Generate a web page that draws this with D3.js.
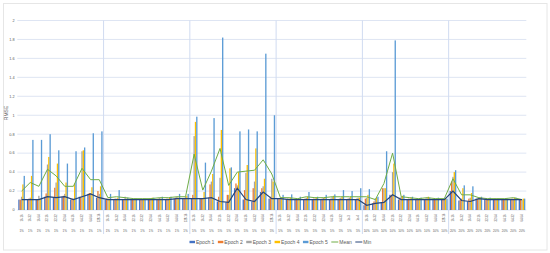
<!DOCTYPE html>
<html><head><meta charset="utf-8">
<script src="https://cdn.jsdelivr.net/npm/d3@7"></script>
<style>body{margin:0;background:#fff}text{font-family:"Liberation Sans",Arial,sans-serif}</style>
</head><body><svg id="c" width="550" height="253"></svg>
<script>
const categories = [
 "16-16","16-32","16-64","32-16","32-32","32-64","64-16","64-32","64-64","128-16",
 "16-16","16-32","16-64","32-16","32-32","32-64","64-16","64-32","64-64","128-16",
 "16-16","16-32","16-64","32-16","32-32","32-64","64-16","64-32","64-64","128-16",
 "16-16","16-32","16-64","32-16","32-32","32-64","64-16","64-32","1e-3","1e-4",
 "16-16","16-32","16-64","32-16","32-32","32-64","64-16","64-32","64-64","128-16",
 "16-16","16-32","16-64","32-16","32-32","32-64","64-16","64-32","64-64"];
const percents = [
 "1%","1%","1%","1%","1%","1%","1%","1%","1%","1%",
 "1%","1%","1%","1%","1%","1%","1%","1%","1%","1%",
 "5%","5%","5%","5%","5%","5%","5%","5%","5%","5%",
 "5%","5%","5%","5%","5%","5%","5%","5%","5%","5%",
 "10%","10%","10%","10%","10%","10%","10%","10%","10%","10%",
 "20%","20%","20%","20%","20%","20%","20%","20%","20%"];
const groupSizes = [10,10,10,10,10,9];
const epoch1 = [0.11,0.11,0.11,0.14,0.13,0.14,0.11,0.14,0.17,0.13,
 0.11,0.11,0.11,0.11,0.11,0.11,0.11,0.11,0.12,0.12,
 0.12,0.12,0.13,0.09,0.08,0.23,0.11,0.09,0.19,0.12,
 0.12,0.11,0.11,0.11,0.11,0.11,0.11,0.11,0.11,0.11,
 0.05,0.07,0.08,0.16,0.11,0.11,0.11,0.11,0.11,0.11,
 0.20,0.10,0.09,0.12,0.11,0.11,0.11,0.11,0.11];
const epoch2 = [0.11,0.12,0.11,0.175,0.235,0.15,0.12,0.14,0.18,0.20,
 0.12,0.12,0.11,0.11,0.11,0.12,0.12,0.12,0.13,0.12,
 0.16,0.12,0.27,0.14,0.16,0.28,0.21,0.23,0.23,0.14,
 0.12,0.12,0.12,0.12,0.12,0.12,0.12,0.12,0.12,0.12,
 0.12,0.09,0.23,0.16,0.13,0.12,0.12,0.12,0.12,0.11,
 0.30,0.11,0.12,0.12,0.12,0.12,0.11,0.12,0.11];
const epoch3 = [0.14,0.13,0.15,0.48,0.29,0.17,0.12,0.62,0.18,0.17,
 0.12,0.12,0.14,0.12,0.12,0.12,0.13,0.12,0.14,0.14,
 0.78,0.12,0.30,0.34,0.16,0.26,0.39,0.30,0.25,0.33,
 0.13,0.12,0.12,0.13,0.12,0.13,0.14,0.13,0.13,0.13,
 0.13,0.12,0.23,0.40,0.14,0.12,0.12,0.13,0.12,0.12,
 0.35,0.12,0.13,0.13,0.12,0.12,0.12,0.12,0.11];
const epoch4 = [0.27,0.36,0.12,0.56,0.49,0.29,0.28,0.63,0.24,0.25,
 0.12,0.13,0.12,0.12,0.12,0.13,0.12,0.13,0.13,0.15,
 0.93,0.19,0.38,0.845,0.44,0.40,0.475,0.65,0.33,0.30,
 0.13,0.13,0.12,0.14,0.13,0.13,0.15,0.14,0.14,0.13,
 0.16,0.13,0.23,0.49,0.15,0.13,0.12,0.14,0.12,0.12,
 0.40,0.23,0.18,0.13,0.12,0.12,0.12,0.13,0.12];
const epoch5 = [0.36,0.74,0.74,0.80,0.63,0.49,0.62,0.66,0.81,0.83,
 0.17,0.21,0.13,0.12,0.12,0.13,0.14,0.14,0.17,0.17,
 0.985,0.50,0.97,1.82,0.45,0.83,0.85,0.83,1.65,1.00,
 0.16,0.165,0.14,0.19,0.14,0.16,0.165,0.21,0.20,0.23,
 0.22,0.14,0.62,1.79,0.16,0.14,0.13,0.13,0.13,0.12,
 0.42,0.26,0.25,0.14,0.13,0.12,0.12,0.13,0.12];
const meanVals = [0.20,0.29,0.25,0.43,0.36,0.25,0.25,0.44,0.32,0.32,
 0.13,0.14,0.13,0.12,0.12,0.12,0.13,0.13,0.14,0.14,
 0.59,0.21,0.41,0.65,0.26,0.40,0.41,0.42,0.53,0.38,
 0.13,0.13,0.12,0.14,0.13,0.13,0.14,0.14,0.14,0.14,
 0.14,0.11,0.28,0.60,0.14,0.13,0.12,0.13,0.12,0.12,
 0.33,0.16,0.16,0.13,0.12,0.12,0.12,0.13,0.11];
const minVals = [0.11,0.11,0.11,0.14,0.13,0.14,0.11,0.14,0.17,0.13,
 0.11,0.11,0.11,0.11,0.11,0.11,0.11,0.11,0.12,0.12,
 0.12,0.12,0.13,0.09,0.08,0.23,0.11,0.09,0.19,0.12,
 0.12,0.11,0.11,0.11,0.11,0.11,0.11,0.11,0.11,0.11,
 0.05,0.07,0.08,0.16,0.11,0.11,0.11,0.11,0.11,0.11,
 0.20,0.10,0.09,0.12,0.11,0.11,0.11,0.11,0.11];
const yTicks = [0,0.2,0.4,0.6,0.8,1,1.2,1.4,1.6,1.8,2];
const yTickLabels = ["0","0.2","0.4","0.6","0.8","1","1.2","1.4","1.6","1.8","2"];
const seriesNames = ["Epoch 1","Epoch 2","Epoch 3","Epoch 4","Epoch 5","Mean","Min"];
const colors = ["#4472C4","#ED7D31","#A5A5A5","#FFC000","#5B9BD5","#70AD47","#264478"];

const svg = d3.select("#c");
const L = 17.3, R = 526.3, T = 20.5, B = 210;
const x = d3.scaleBand().domain(d3.range(categories.length)).range([L, R]);
const cw = x.bandwidth();
const bw = cw / 6.5;
const xs = d3.scaleBand().domain(d3.range(5)).range([0.75*bw, cw - 0.75*bw]);
const y = d3.scaleLinear().domain([0, 2]).range([B, T]);
const grid = "#d6def0";

svg.append("rect").attr("x",3.5).attr("y",3.5).attr("width",543.5).attr("height",246.5)
  .attr("fill","#fff").attr("stroke","#e6e6e6").attr("stroke-width",1);

svg.append("g").selectAll("line").data(yTicks).join("line")
  .attr("x1",L).attr("x2",R).attr("y1",d=>y(d)).attr("y2",d=>y(d))
  .attr("stroke",grid).attr("stroke-width",0.8);

let acc = 0; const bounds = [];
groupSizes.forEach((g,i)=>{ acc += g; if (i < groupSizes.length-1) bounds.push(acc); });
svg.append("g").selectAll("line").data(bounds).join("line")
  .attr("x1",d=>x(d)).attr("x2",d=>x(d)).attr("y1",T).attr("y2",234)
  .attr("stroke","#d0dbf1").attr("stroke-width",1);

svg.append("g").selectAll("text").data(yTicks).join("text")
  .attr("x",14.5).attr("y",d=>y(d)).attr("dy","0.35em").attr("text-anchor","end")
  .attr("font-size",3.8).attr("fill","#595959").text((d,i)=>yTickLabels[i]);

svg.append("text").attr("transform","translate(8,113) rotate(-90)").attr("text-anchor","middle")
  .attr("font-size",5).attr("fill","#595959").text("RMSE");

const epochs = [epoch1, epoch2, epoch3, epoch4, epoch5];
epochs.forEach((arr, k) => {
  svg.append("g").selectAll("rect").data(arr).join("rect")
    .attr("x",(d,i)=>x(i)+xs(k)).attr("width",xs.bandwidth())
    .attr("y",d=>y(d)).attr("height",d=>B-y(d)).attr("fill",colors[k]);
});

const line = d3.line().x((d,i)=>x(i)+cw/2).y(d=>y(d));
svg.append("path").datum(meanVals).attr("d",line).attr("fill","none")
  .attr("stroke",colors[5]).attr("stroke-width",1);
svg.append("path").datum(minVals).attr("d",line).attr("fill","none")
  .attr("stroke",colors[6]).attr("stroke-width",1.2);

svg.append("g").selectAll("text").data(categories).join("text")
  .attr("transform",(d,i)=>`translate(${x(i)+cw/2+1},218) rotate(-90)`)
  .attr("text-anchor","middle").attr("font-size",2.8).attr("fill","#595959").text(d=>d);
svg.append("g").selectAll("text").data(percents).join("text")
  .attr("x",(d,i)=>x(i)+cw/2).attr("y",231.5).attr("text-anchor","middle")
  .attr("font-size",3).attr("fill","#595959").text(d=>d);

const lg = svg.append("g");
let lx = 189.5; const ly = 242;
seriesNames.forEach((n,i)=>{
  const isLine = i >= 5;
  const sw = isLine ? 7 : 5.5;
  if (isLine) lg.append("line").attr("x1",lx).attr("x2",lx+sw).attr("y1",ly).attr("y2",ly)
      .attr("stroke",colors[i]).attr("stroke-width",1);
  else lg.append("rect").attr("x",lx).attr("y",ly-1.2).attr("width",sw).attr("height",2.4).attr("fill",colors[i]);
  const t = lg.append("text").attr("x",lx+sw+1).attr("y",ly).attr("dy","0.35em")
    .attr("font-size",5).attr("fill","#595959").text(n);
  lx += sw + 1 + t.node().getComputedTextLength() + 3.5;
});
</script></body></html>
